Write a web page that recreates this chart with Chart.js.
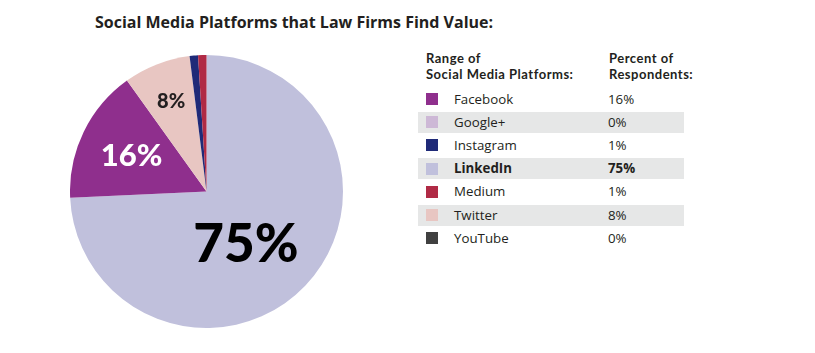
<!DOCTYPE html>
<html><head><meta charset="utf-8">
<script src="https://cdn.jsdelivr.net/npm/chart.js@4.4.0/dist/chart.umd.min.js"></script>
<style>
body{margin:0;width:815px;height:353px;background:#fff;position:relative;overflow:hidden;font-family:"Open Sans",sans-serif;color:#231f20}
#title{position:absolute;left:95px;top:12px;font-weight:700;font-size:16px;line-height:20px;color:#231f20;white-space:nowrap}
#wrap{position:absolute;left:70px;top:54.5px;width:273px;height:273px}
.hdr{position:absolute;top:50px;font-family:Lato,sans-serif;font-weight:700;font-size:13px;letter-spacing:0.5px;line-height:16px;color:#231f20;white-space:nowrap}
.row{position:absolute;left:418px;width:266px;height:21px}
.row.alt{background:#e6e7e7}
.sw{position:absolute;left:8px;top:4.5px;width:12px;height:12px}
.lab,.pct{position:absolute;top:0;font-size:13.3px;line-height:21px;white-space:nowrap;color:#231f20}
.lab{left:36px}.pct{left:190px}
.bold{font-weight:700}
</style></head><body>
<div id="title">Social Media Platforms that Law Firms Find Value:</div>
<div class="hdr" style="left:426px">Range of<br>Social Media Platforms:</div>
<div class="hdr" style="left:609px">Percent of<br>Respondents:</div>
<div id="legend"></div>
<div id="wrap"><canvas id="c" width="273" height="273"></canvas></div>
<script>
const categories = ["Facebook","Google+","Instagram","LinkedIn","Medium","Twitter","YouTube"];
const values = [16,0,1,75,1,8,0];
const colors = ["#8f2f8d","#cdb8d6","#1f2a78","#c0c0dc","#b02a45","#e8c6c2","#404040"];
const pieOrder = ["LinkedIn","Facebook","Google+","Twitter","YouTube","Instagram","Medium"];
const highlighted = "LinkedIn";
// label placement inside slice: r = fraction of radius, a = fraction along the slice angle
const sliceLabels = {
  LinkedIn:{r:0.472,a:0.532,color:"#000",size:53},
  Facebook:{r:0.61,a:0.5,color:"#fff",size:31},
  Twitter:{r:0.71,a:0.5,color:"#231f20",size:20}
};

// legend table
const leg = document.getElementById('legend');
categories.forEach((c,i)=>{
  const row = document.createElement('div');
  row.className = 'row' + (i%2===1?' alt':'');
  row.style.top = (88.5 + 23.2*i) + 'px';
  const b = c===highlighted ? ' bold' : '';
  row.innerHTML = `<div class="sw" style="background:${colors[i]}"></div><div class="lab${b}">${c}</div><div class="pct${b}">${values[i]}%</div>`;
  leg.appendChild(row);
});

const idx = pieOrder.map(n=>categories.indexOf(n));
const pieData = idx.map(i=>values[i]);
const pieColors = idx.map(i=>colors[i]);

const labelPlugin = {
  id:'sliceLabels',
  afterDatasetsDraw(chart){
    const ctx = chart.ctx;
    const meta = chart.getDatasetMeta(0);
    meta.data.forEach((arc,j)=>{
      const name = pieOrder[j];
      const s = sliceLabels[name];
      if(!s) return;
      const ang = arc.startAngle + (arc.endAngle-arc.startAngle)*s.a;
      const rr = arc.outerRadius*s.r;
      const x = arc.x + Math.cos(ang)*rr, y = arc.y + Math.sin(ang)*rr;
      ctx.save();
      ctx.fillStyle = s.color;
      ctx.font = `900 ${s.size}px Lato, sans-serif`;
      ctx.textAlign='center'; ctx.textBaseline='alphabetic';
      ctx.fillText(values[categories.indexOf(name)]+'%', x, y + s.size*0.36);
      ctx.restore();
    });
  }
};

new Chart(document.getElementById('c'),{
  type:'pie',
  data:{labels:pieOrder,datasets:[{data:pieData,backgroundColor:pieColors,borderWidth:0}]},
  options:{responsive:false,animation:false,layout:{padding:0},
    plugins:{legend:{display:false},tooltip:{enabled:false}}},
  plugins:[labelPlugin]
});
</script>
</body></html>
